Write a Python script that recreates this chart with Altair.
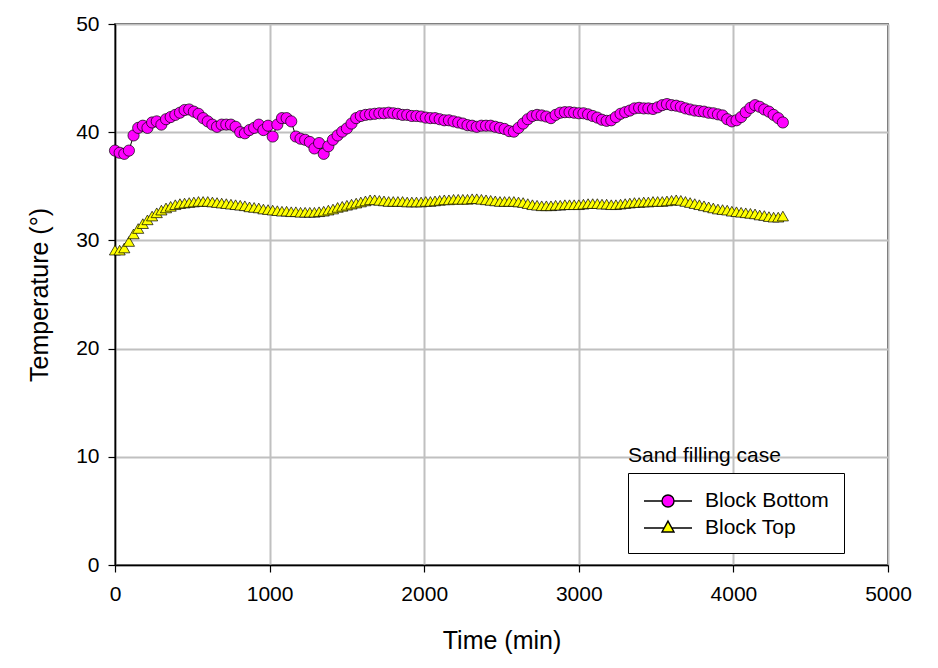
import altair as alt
import pandas as pd

# Time grid (min)
times = [0, 30, 60, 90, 120, 150, 180, 210, 240, 270, 300, 330, 360, 390, 420, 450, 480, 510,
         540, 570, 600, 630, 660, 690, 720, 750, 780, 810, 840, 870, 900, 930, 960, 990, 1020,
         1050, 1080, 1110, 1140, 1170, 1200, 1230, 1260, 1290, 1320, 1350, 1380, 1410, 1440,
         1470, 1500, 1530, 1560, 1590, 1620, 1650, 1680, 1710, 1740, 1770, 1800, 1830, 1860,
         1890, 1920, 1950, 1980, 2010, 2040, 2070, 2100, 2130, 2160, 2190, 2220, 2250, 2280,
         2310, 2340, 2370, 2400, 2430, 2460, 2490, 2520, 2550, 2580, 2610, 2640, 2670, 2700,
         2730, 2760, 2790, 2820, 2850, 2880, 2910, 2940, 2970, 3000, 3030, 3060, 3090, 3120,
         3150, 3180, 3210, 3240, 3270, 3300, 3330, 3360, 3390, 3420, 3450, 3480, 3510, 3540,
         3570, 3600, 3630, 3660, 3690, 3720, 3750, 3780, 3810, 3840, 3870, 3900, 3930, 3960,
         3990, 4020, 4050, 4080, 4110, 4140, 4170, 4200, 4230, 4260, 4290, 4320]

block_bottom = [38.3, 38.1, 38.0, 38.3, 39.7, 40.4, 40.6, 40.4, 40.9, 41.0, 40.7, 41.2, 41.4,
                41.6, 41.8, 42.05, 42.1, 41.9, 41.7, 41.3, 41.0, 40.7, 40.5, 40.7, 40.7, 40.7,
                40.5, 40.0, 39.9, 40.2, 40.4, 40.7, 40.2, 40.6, 39.6, 40.7, 41.3, 41.3, 41.0,
                39.6, 39.4, 39.3, 39.1, 38.5, 39.0, 38.0, 38.7, 39.3, 39.7, 40.05, 40.35, 40.8,
                41.3, 41.5, 41.6, 41.65, 41.7, 41.75, 41.75, 41.8, 41.75, 41.7, 41.6, 41.6, 41.5,
                41.5, 41.45, 41.35, 41.3, 41.3, 41.2, 41.1, 41.1, 41.0, 40.9, 40.8, 40.65, 40.6,
                40.5, 40.6, 40.6, 40.6, 40.5, 40.4, 40.3, 40.1, 40.05, 40.4, 40.8, 41.2, 41.5,
                41.6, 41.55, 41.45, 41.3, 41.6, 41.8, 41.85, 41.85, 41.8, 41.75, 41.75, 41.65,
                41.5, 41.35, 41.15, 41.05, 41.1, 41.4, 41.7, 41.85, 42.0, 42.2, 42.25, 42.2,
                42.2, 42.15, 42.3, 42.5, 42.6, 42.5, 42.45, 42.35, 42.2, 42.1, 42.0, 41.95, 41.9,
                41.8, 41.75, 41.65, 41.55, 41.2, 41.0, 41.1, 41.4, 41.85, 42.25, 42.5, 42.35,
                42.1, 41.9, 41.6, 41.3, 40.9]

block_top = [29.1, 29.1, 29.3, 29.9, 30.6, 31.1, 31.55, 31.9, 32.25, 32.55, 32.8, 33.0, 33.15,
             33.3, 33.4, 33.45, 33.5, 33.55, 33.6, 33.6, 33.6, 33.55, 33.5, 33.45, 33.4, 33.35,
             33.3, 33.25, 33.2, 33.1, 33.05, 33.0, 32.9, 32.85, 32.8, 32.75, 32.7, 32.7, 32.65,
             32.65, 32.6, 32.6, 32.6, 32.6, 32.65, 32.7, 32.8, 32.9, 33.05, 33.15, 33.25, 33.35,
             33.45, 33.55, 33.65, 33.75, 33.75, 33.7, 33.65, 33.6, 33.6, 33.6, 33.6, 33.55,
             33.55, 33.55, 33.55, 33.6, 33.6, 33.65, 33.7, 33.75, 33.75, 33.8, 33.8, 33.8, 33.8,
             33.85, 33.85, 33.8, 33.75, 33.7, 33.65, 33.6, 33.6, 33.6, 33.6, 33.55, 33.5, 33.4,
             33.3, 33.25, 33.2, 33.2, 33.2, 33.25, 33.25, 33.3, 33.3, 33.3, 33.3, 33.35, 33.4,
             33.4, 33.4, 33.35, 33.35, 33.3, 33.3, 33.35, 33.4, 33.45, 33.5, 33.5, 33.55, 33.55,
             33.6, 33.6, 33.6, 33.65, 33.7, 33.75, 33.7, 33.6, 33.5, 33.4, 33.3, 33.2, 33.1,
             33.0, 32.9, 32.85, 32.8, 32.7, 32.65, 32.6, 32.55, 32.5, 32.45, 32.35, 32.3, 32.2,
             32.15, 32.15, 32.25]

series_names = ["Block Bottom", "Block Top"]
series_fills = ["#FF00FF", "#FFFF00"]
series_shapes = ["circle", "triangle-up"]
x_ticks = [0, 1000, 2000, 3000, 4000, 5000]
y_ticks = [0, 10, 20, 30, 40, 50]
legend_title = ["Sand filling case"]

assert len(times) == len(block_bottom) == len(block_top)

df = pd.concat([
    pd.DataFrame({"t": times, "v": block_bottom, "s": series_names[0]}),
    pd.DataFrame({"t": times, "v": block_top, "s": series_names[1]}),
])

FONT = "Liberation Sans"

x_enc = alt.X("t:Q", scale=alt.Scale(domain=[0, 5000], nice=False),
              axis=alt.Axis(values=x_ticks, format="d", title="Time (min)", labelFlush=False,
                            labelPadding=11, titlePadding=24))
y_enc = alt.Y("v:Q", scale=alt.Scale(domain=[0, 50], nice=False),
              axis=alt.Axis(values=y_ticks, format="d", title="Temperature (°)", labelFlush=False,
                            labelPadding=9, titlePadding=23))

# legend symbols: line with the marker in the middle (unit = sqrt(symbolSize)/2)
circle_path = "M-1,0H0.5M1.5,0H3M0.5,0A0.5,0.5,0,1,0,1.5,0A0.5,0.5,0,1,0,0.5,0Z"
tri_path = "M-1,0H0.68M1.32,0H3M1,-0.58L1.5,0.33L0.5,0.33Z"

lines = alt.Chart(df).mark_line(color="black", strokeWidth=1).encode(
    x=x_enc, y=y_enc, detail="s:N", order="t:Q")

point_layers = []
for name, fill, shape in zip(series_names, series_fills, series_shapes):
    point_layers.append(
        alt.Chart(df).transform_filter(alt.datum.s == name).mark_point(
            filled=True, fill=fill, stroke="black", strokeWidth=0.7, size=125,
            opacity=1, shape=shape).encode(x=x_enc, y=y_enc)
    )

leg = alt.Legend(
    title=None, orient="none", legendX=513, legendY=449, padding=15,
    strokeColor="black", fillColor="white", symbolSize=576,
    labelOffset=36, labelFontSize=21, labelFont=FONT, labelColor="black",
    labelExpr="datum.label + '\u00a0'",
    rowPadding=4, symbolStrokeColor="black", symbolStrokeWidth=1.4, symbolOpacity=1)

legend_layer = alt.Chart(df).transform_filter("datum.t < 0").mark_point(
    filled=True, strokeWidth=1.4, opacity=1).encode(
    x=x_enc, y=y_enc,
    fill=alt.Fill("s:N", scale=alt.Scale(domain=series_names, range=series_fills), legend=leg),
    shape=alt.Shape("s:N", scale=alt.Scale(domain=series_names, range=[circle_path, tri_path]),
                    legend=leg),
    stroke=alt.Stroke("s:N", scale=alt.Scale(domain=series_names, range=["black", "black"]),
                      legend=leg),
)

title_df = pd.DataFrame({"label": legend_title})
legend_text = alt.Chart(title_df).mark_text(
    align="left", baseline="alphabetic", fontSize=21, font=FONT, color="black").encode(
    x=alt.value(513), y=alt.value(438), text="label:N")

chart = alt.layer(lines, *point_layers, legend_layer, legend_text).properties(
    width=773, height=541,
    autosize=alt.AutoSizeParams(type="none"),
    padding={"left": 107, "top": 16, "right": 30, "bottom": 90},
).configure_view(stroke="black", strokeWidth=1.5).configure_axis(
    grid=True, gridColor="#c0c0c0", gridWidth=2, domainColor="black", domainWidth=1.5,
    tickColor="black", tickSize=7, tickWidth=1.2, labelFontSize=21, titleFontSize=25,
    labelFont=FONT, titleFont=FONT, labelColor="black", titleColor="black",
    titleFontWeight="normal",
)

chart.save("out.html", embed_options={"renderer": "svg", "actions": False})
